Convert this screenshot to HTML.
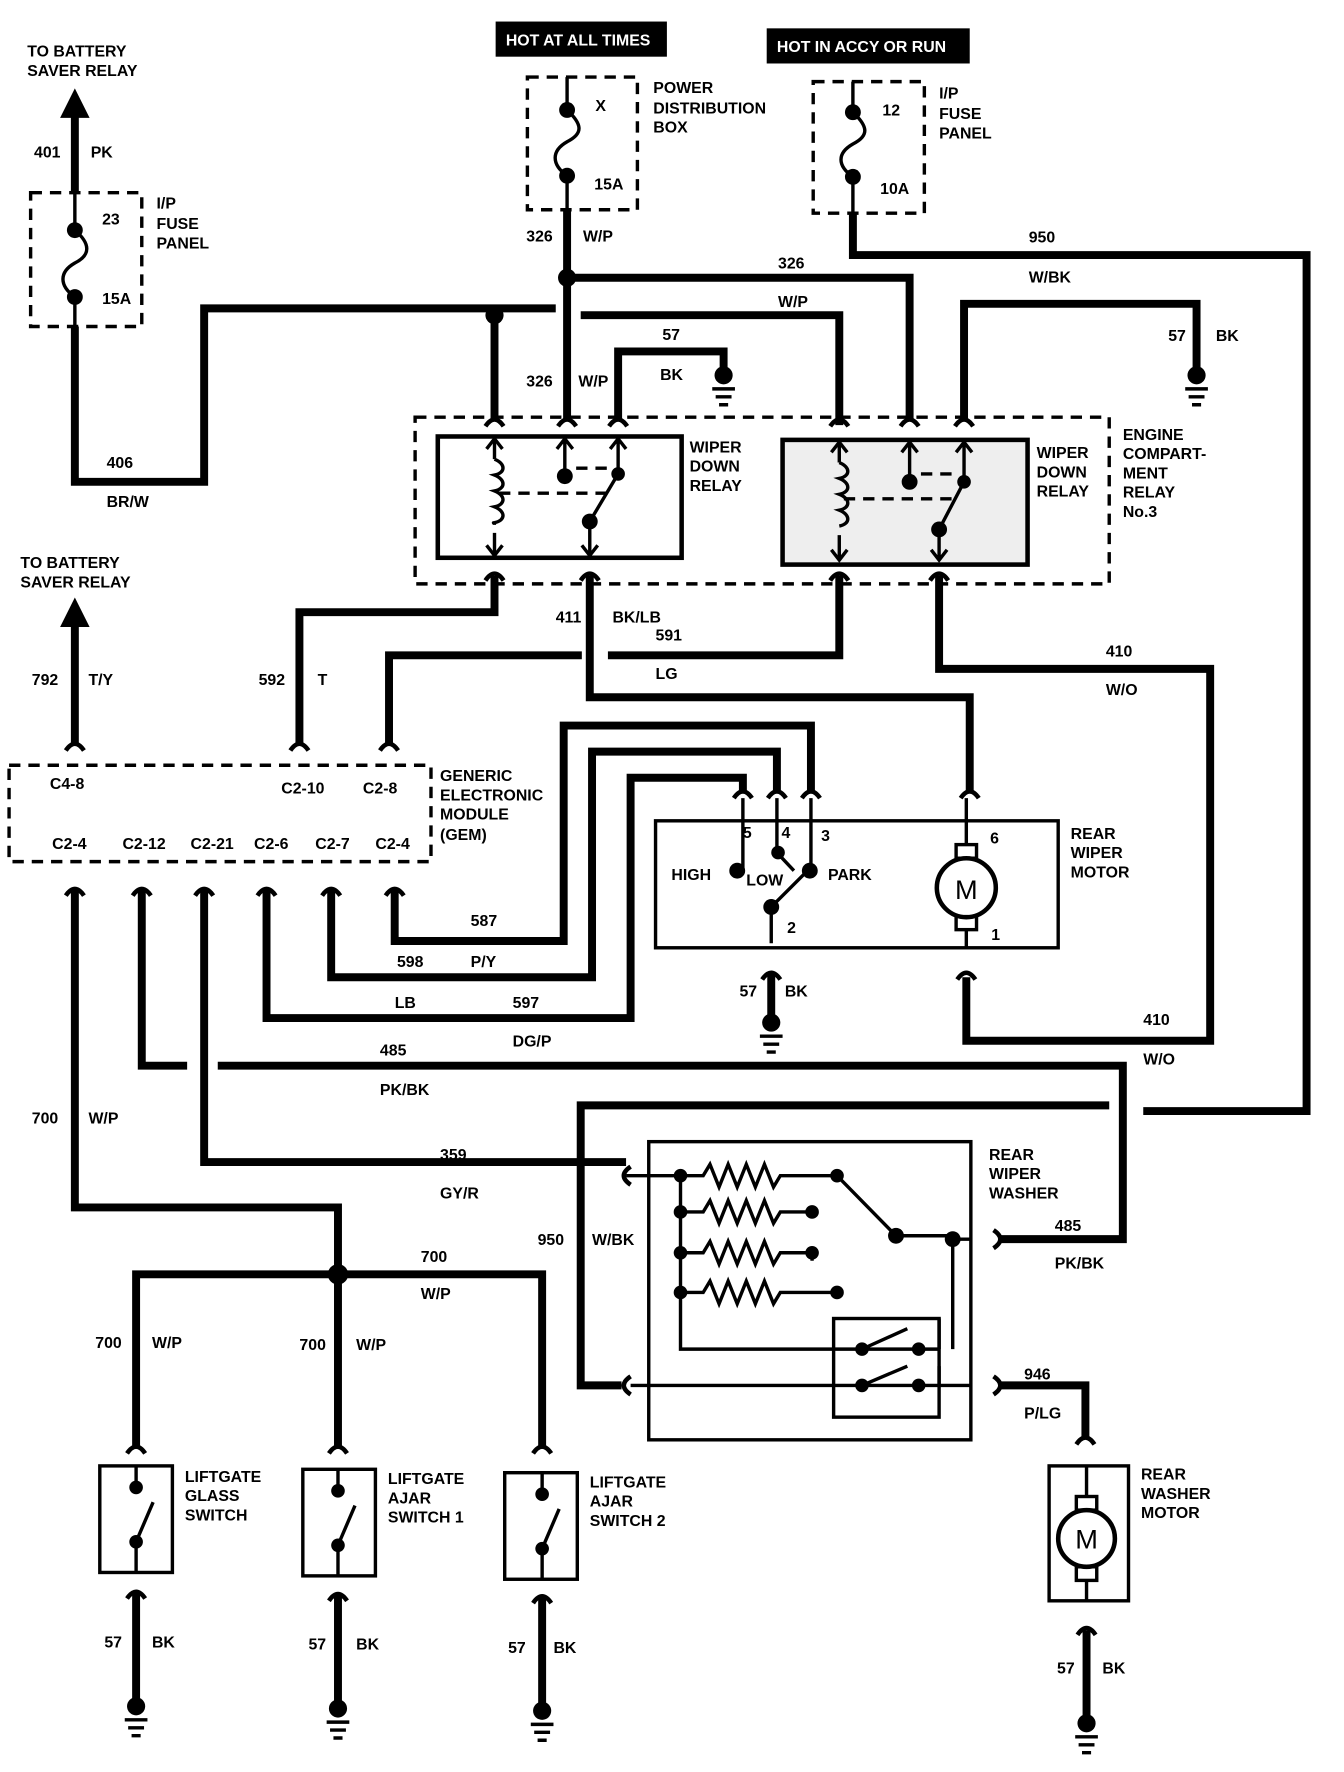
<!DOCTYPE html>
<html><head><meta charset="utf-8"><style>
html,body{margin:0;padding:0;background:#fff;}
svg{display:block;}
text{font-family:"Liberation Sans Narrow","Liberation Sans",sans-serif;font-size:14px;font-weight:bold;fill:#000;}
.w{fill:none;stroke:#000;stroke-width:7;stroke-linejoin:miter;}
.t{fill:none;stroke:#000;stroke-width:3;}
.d{fill:none;stroke:#000;stroke-width:3;stroke-dasharray:10,7;}
.c{fill:none;stroke:#000;stroke-width:4;}
</style></head><body>
<svg width="1344" height="1772" viewBox="0 0 1185 1563" preserveAspectRatio="none" xmlns="http://www.w3.org/2000/svg">
<rect width="1185" height="1563" fill="#fff"/>
<!-- top left battery saver -->
<text x="24" y="50">TO BATTERY</text><text x="24" y="67">SAVER RELAY</text>
<polygon points="66,78 53,104 79,104" fill="#000"/>
<path class="w" d="M66 100V170"/>
<text x="30" y="139">401</text><text x="80" y="139">PK</text>
<rect class="d" x="27" y="170" width="98" height="118"/>
<path class="t" d="M66 170V203 M66 262V288"/>
<path class="t" d="M66 203 C80 215,80 225,66 232 C52 240,52 252,66 262"/>
<circle cx="66" cy="203" r="7"/><circle cx="66" cy="262" r="7"/>
<text x="90" y="198">23</text><text x="90" y="268">15A</text>
<text x="138" y="184">I/P</text><text x="138" y="202">FUSE</text><text x="138" y="219">PANEL</text>
<path class="w" d="M66 288V425H180V272H490"/>
<path class="w" d="M512 278H740V375"/>
<circle cx="436" cy="278" r="8"/>
<path class="w" d="M436 278V370"/>
<text x="94" y="413">406</text><text x="94" y="447">BR/W</text>
<!-- hot boxes -->
<rect x="437" y="19" width="151" height="31" fill="#000"/><text x="446" y="40" style="fill:#fff">HOT AT ALL TIMES</text>
<rect x="676" y="25" width="179" height="31" fill="#000"/><text x="685" y="46" style="fill:#fff">HOT IN ACCY OR RUN</text>
<!-- power distribution -->
<rect class="d" x="465" y="68" width="97" height="117"/>
<path class="t" d="M500 68V97 M500 155V185"/>
<path class="t" d="M500 97 C514 110,514 118,500 125 C486 133,486 145,500 155"/>
<circle cx="500" cy="97" r="7"/><circle cx="500" cy="155" r="7"/>
<text x="525" y="98">X</text><text x="524" y="167">15A</text>
<text x="576" y="82">POWER</text><text x="576" y="100">DISTRIBUTION</text><text x="576" y="117">BOX</text>
<path class="w" d="M500 185V370"/>
<text x="464" y="213">326</text><text x="514" y="213">W/P</text>
<circle cx="500" cy="245" r="8"/>
<path class="w" d="M500 245H802V370"/>
<text x="686" y="237">326</text><text x="686" y="271">W/P</text>
<text x="464" y="341">326</text><text x="510" y="341">W/P</text>
<path class="w" d="M545 370V310H638V325"/>
<text x="584" y="300">57</text><text x="582" y="335">BK</text>
<circle cx="638" cy="331" r="8"/><path class="t" d="M628 343H648M631 350H645M634 357H642"/>
<!-- I/P fuse right -->
<rect class="d" x="717" y="72" width="98" height="116"/>
<path class="t" d="M752 72V99 M752 156V188"/>
<path class="t" d="M752 99 C766 112,766 120,752 127 C738 135,738 146,752 156"/>
<circle cx="752" cy="99" r="7"/><circle cx="752" cy="156" r="7"/>
<text x="778" y="102">12</text><text x="776" y="171">10A</text>
<text x="828" y="87">I/P</text><text x="828" y="105">FUSE</text><text x="828" y="122">PANEL</text>
<path class="w" d="M752 188V225H1152V980H1008"/>
<text x="907" y="214">950</text><text x="907" y="249">W/BK</text>
<path class="w" d="M850 370V268H1055V325"/>
<text x="1030" y="301">57</text><text x="1072" y="301">BK</text>
<circle cx="1055" cy="331" r="8"/><path class="t" d="M1045 343H1065M1048 350H1062M1051 357H1059"/>
<!-- engine compartment relay -->
<rect class="d" x="366" y="368" width="612" height="147"/>
<rect x="386" y="385" width="215" height="107" fill="none" stroke="#000" stroke-width="4"/>
<rect x="690" y="388" width="216" height="110" fill="#eee" stroke="#000" stroke-width="4"/>
<text x="608" y="399">WIPER</text><text x="608" y="416">DOWN</text><text x="608" y="433">RELAY</text>
<text x="914" y="404">WIPER</text><text x="914" y="421">DOWN</text><text x="914" y="438">RELAY</text>
<text x="990" y="388">ENGINE</text><text x="990" y="405">COMPART-</text><text x="990" y="422">MENT</text><text x="990" y="439">RELAY</text><text x="990" y="456">No.3</text>
<g class="t">
<path d="M436 387V405 M436 470V490 M436 405 c10 4,10 12,0 14 c10 4,10 12,0 14 c10 4,10 12,0 14 c10 4,10 12,0 14 c-2 0,0 0,0 2"/>
<path d="M429 396L436 387L443 396 M429 481L436 490L443 481"/>
<path d="M498 387V420 M491 396L498 387L505 396"/>
<path d="M545 387V418 L520 460 V490 M538 396L545 387L552 396 M513 481L520 490L527 481"/>
<path d="M740 390V408 M740 472V494 M740 408 c10 4,10 12,0 14 c10 4,10 12,0 14 c10 4,10 12,0 14 c10 4,10 12,0 14"/>
<path d="M733 399L740 390L747 399 M733 485L740 494L747 485"/>
<path d="M802 390V425 M795 399L802 390L809 399"/>
<path d="M850 390V425 L828 467 V494 M843 399L850 390L857 399 M821 485L828 494L835 485"/>
</g>
<path class="d" d="M440 435H540 M508 413H535 M744 440H845 M812 418H840"/>
<circle cx="498" cy="420" r="7"/><circle cx="545" cy="418" r="6"/><circle cx="520" cy="460" r="7"/>
<circle cx="802" cy="425" r="7"/><circle cx="850" cy="425" r="6"/><circle cx="828" cy="467" r="7"/>
<g class="c"><path d="M428 376Q436 364 444 376M492 376Q500 364 508 376M537 376Q545 364 553 376M732 376Q740 364 748 376M794 376Q802 364 810 376M842 376Q850 364 858 376"/>
<path d="M428 512Q436 500 444 512M512 512Q520 500 528 512M732 512Q740 500 748 512M820 512Q828 500 836 512"/></g>
<!-- relay outputs -->
<path class="w" d="M436 508V540H264V655"/>
<text x="228" y="604">592</text><text x="280" y="604">T</text>
<path class="w" d="M520 508V615H855V700"/>
<text x="490" y="549">411</text><text x="540" y="549">BK/LB</text><text x="578" y="599">LG</text>
<path class="w" d="M740 508V578H536 M513 578H343V655"/>
<text x="578" y="565">591</text>
<path class="w" d="M828 508V590H1067V918H852V862"/>
<text x="975" y="579">410</text><text x="975" y="613">W/O</text>
<text x="1008" y="904">410</text><text x="1008" y="939">W/O</text>
<!-- battery saver 2 -->
<text x="18" y="501">TO BATTERY</text><text x="18" y="518">SAVER RELAY</text>
<polygon points="66,527 53,553 79,553" fill="#000"/>
<path class="w" d="M66 550V655"/>
<text x="28" y="604">792</text><text x="78" y="604">T/Y</text>
<!-- GEM -->
<rect class="d" x="8" y="675" width="372" height="85"/>
<text x="44" y="696">C4-8</text><text x="248" y="700">C2-10</text><text x="320" y="700">C2-8</text>
<text x="46" y="749">C2-4</text><text x="108" y="749">C2-12</text><text x="168" y="749">C2-21</text><text x="224" y="749">C2-6</text><text x="278" y="749">C2-7</text><text x="331" y="749">C2-4</text>
<text x="388" y="689">GENERIC</text><text x="388" y="706">ELECTRONIC</text><text x="388" y="723">MODULE</text><text x="388" y="741">(GEM)</text>
<g class="c"><path d="M58 662Q66 650 74 662M256 662Q264 650 272 662M335 662Q343 650 351 662"/>
<path d="M58 790Q66 778 74 790M117 790Q125 778 133 790M172 790Q180 778 188 790M227 790Q235 778 243 790M284 790Q292 778 300 790M340 790Q348 778 356 790"/>
<path d="M647 704Q655 692 663 704M677 704Q685 692 693 704M707 704Q715 692 723 704M847 704Q855 692 863 704M672 864Q680 852 688 864M844 864Q852 852 860 864"/></g>
<path class="w" d="M348 785V830H497V640H715V700"/>
<text x="415" y="817">587</text>
<path class="w" d="M292 785V862H522V663H685V700"/>
<text x="350" y="853">598</text><text x="415" y="853">P/Y</text>
<path class="w" d="M235 785V898H556V686H655V700"/>
<text x="348" y="889">LB</text><text x="452" y="889">597</text><text x="452" y="923">DG/P</text>
<path class="w" d="M125 785V940H165 M192 940H990V1093H880"/>
<text x="335" y="931">485</text><text x="335" y="966">PK/BK</text>
<text x="930" y="1086">485</text><text x="930" y="1119">PK/BK</text>
<path class="w" d="M180 785V1025H552"/>
<text x="388" y="1023">359</text><text x="388" y="1057">GY/R</text>
<path class="w" d="M66 785V1065H298V1278"/>
<text x="28" y="991">700</text><text x="78" y="991">W/P</text>
<circle cx="298" cy="1124" r="9"/>
<path class="w" d="M120 1278V1124H478V1278"/>
<text x="371" y="1113">700</text><text x="371" y="1146">W/P</text>
<text x="84" y="1189">700</text><text x="134" y="1189">W/P</text><text x="264" y="1191">700</text><text x="314" y="1191">W/P</text>
<!-- rear wiper motor -->
<rect x="578" y="724" width="355" height="112" fill="none" stroke="#000" stroke-width="3"/>
<text x="655" y="739">5</text><text x="689" y="739">4</text><text x="724" y="742">3</text>
<text x="592" y="776">HIGH</text><text x="658" y="781">LOW</text><text x="730" y="776">PARK</text>
<path class="t" d="M655 704V768 M685 704V752 M715 704V768 M680 800V832 M680 800L712 768 M685 752L700 768"/>
<circle cx="650" cy="768" r="7"/><circle cx="686" cy="752" r="6"/><circle cx="714" cy="768" r="7"/><circle cx="680" cy="800" r="7"/>
<text x="694" y="823">2</text>
<path class="t" d="M852 704V745 M852 820V836"/>
<rect x="843" y="745" width="18" height="12" fill="#fff" stroke="#000" stroke-width="3"/>
<rect x="843" y="808" width="18" height="12" fill="#fff" stroke="#000" stroke-width="3"/>
<circle cx="852" cy="783" r="26" fill="#fff" stroke="#000" stroke-width="4"/>
<text x="852" y="793" text-anchor="middle" style="font-size:24px;font-weight:normal">M</text>
<text x="873" y="744">6</text><text x="874" y="829">1</text>
<text x="944" y="740">REAR</text><text x="944" y="757">WIPER</text><text x="944" y="774">MOTOR</text>
<path class="w" d="M680 860V900"/>
<text x="652" y="879">57</text><text x="692" y="879">BK</text>
<circle cx="680" cy="902" r="8"/><path class="t" d="M670 914H690M673 921H687M676 928H684"/>
<!-- rear wiper washer -->
<path class="w" d="M978 975H512V1222H548"/>
<text x="474" y="1098">950</text><text x="522" y="1098">W/BK</text>
<g class="c"><path d="M556 1029Q544 1037 556 1045M556 1214Q544 1222 556 1230M876 1085Q888 1093 876 1101M876 1214Q888 1222 876 1230"/></g>
<rect x="572" y="1007" width="284" height="263" fill="none" stroke="#000" stroke-width="3"/>
<rect x="735" y="1163" width="93" height="87" fill="none" stroke="#000" stroke-width="3"/>
<path class="t" d="M552 1037H600 M600 1037V1190H828 M556 1222H856 M600 1037H620l6-10 8 20 8-20 8 20 8-20 8 20 8-20 8 20 6-10H738 M600 1069H620l6-10 8 20 8-20 8 20 8-20 8 20 8-20 8 20 6-10H716 M600 1105H620l6-10 8 20 8-20 8 20 8-20 8 20 8-20 8 20 6-10H716V1112 M600 1140H620l6-10 8 20 8-20 8 20 8-20 8 20 8-20 8 20 6-10H738 M738 1037L790 1090H840V1190 M840 1093H856 M760 1190L800 1172 M760 1222L800 1205 M828 1190V1163 M828 1222V1205"/>
<circle cx="600" cy="1037" r="6"/><circle cx="600" cy="1069" r="6"/><circle cx="600" cy="1105" r="6"/><circle cx="600" cy="1140" r="6"/>
<circle cx="738" cy="1037" r="6"/><circle cx="716" cy="1069" r="6"/><circle cx="716" cy="1105" r="6"/><circle cx="738" cy="1140" r="6"/>
<circle cx="790" cy="1090" r="7"/><circle cx="840" cy="1093" r="7"/>
<circle cx="760" cy="1190" r="6"/><circle cx="760" cy="1222" r="6"/><circle cx="810" cy="1190" r="6"/><circle cx="810" cy="1222" r="6"/>
<text x="872" y="1023">REAR</text><text x="872" y="1040">WIPER</text><text x="872" y="1057">WASHER</text>
<path class="w" d="M880 1222H957V1268"/>
<text x="903" y="1217">946</text><text x="903" y="1251">P/LG</text>
<g class="c"><path d="M949 1274Q957 1262 965 1274M112 1282Q120 1270 128 1282M290 1282Q298 1270 306 1282M470 1282Q478 1270 486 1282M950 1442Q958 1430 966 1442M112 1410Q120 1398 128 1410M290 1412Q298 1400 306 1412M470 1414Q478 1402 486 1414"/></g>
<rect x="925" y="1293" width="70" height="119" fill="none" stroke="#000" stroke-width="3"/>
<path class="t" d="M958 1293V1320 M958 1394V1412"/>
<rect x="949" y="1320" width="18" height="12" fill="#fff" stroke="#000" stroke-width="3"/>
<rect x="949" y="1382" width="18" height="12" fill="#fff" stroke="#000" stroke-width="3"/>
<circle cx="958" cy="1357" r="25" fill="#fff" stroke="#000" stroke-width="4"/>
<text x="958" y="1366" text-anchor="middle" style="font-size:24px;font-weight:normal">M</text>
<text x="1006" y="1305">REAR</text><text x="1006" y="1322">WASHER</text><text x="1006" y="1339">MOTOR</text>
<path class="w" d="M958 1438V1515"/>
<text x="932" y="1476">57</text><text x="972" y="1476">BK</text>
<circle cx="958" cy="1520" r="8"/><path class="t" d="M948 1532H968M951 1539H965M954 1546H962"/>
<!-- liftgate switches -->
<g>
<rect x="88" y="1293" width="64" height="94" fill="none" stroke="#000" stroke-width="3"/>
<path class="t" d="M120 1293V1310 M120 1360V1387 M120 1360L135 1325"/>
<circle cx="120" cy="1312" r="6"/><circle cx="120" cy="1360" r="6"/>
<text x="163" y="1307">LIFTGATE</text><text x="163" y="1324">GLASS</text><text x="163" y="1341">SWITCH</text>
<path class="w" d="M120 1405V1500"/><text x="92" y="1453">57</text><text x="134" y="1453">BK</text>
<circle cx="120" cy="1505" r="8"/><path class="t" d="M110 1517H130M113 1524H127M116 1531H124"/>
<rect x="267" y="1296" width="64" height="94" fill="none" stroke="#000" stroke-width="3"/>
<path class="t" d="M298 1296V1313 M298 1363V1390 M298 1363L313 1328"/>
<circle cx="298" cy="1315" r="6"/><circle cx="298" cy="1363" r="6"/>
<text x="342" y="1309">LIFTGATE</text><text x="342" y="1326">AJAR</text><text x="342" y="1343">SWITCH 1</text>
<path class="w" d="M298 1407V1502"/><text x="272" y="1455">57</text><text x="314" y="1455">BK</text>
<circle cx="298" cy="1507" r="8"/><path class="t" d="M288 1519H308M291 1526H305M294 1533H302"/>
<rect x="445" y="1299" width="64" height="94" fill="none" stroke="#000" stroke-width="3"/>
<path class="t" d="M478 1299V1316 M478 1366V1393 M478 1366L493 1331"/>
<circle cx="478" cy="1318" r="6"/><circle cx="478" cy="1366" r="6"/>
<text x="520" y="1312">LIFTGATE</text><text x="520" y="1329">AJAR</text><text x="520" y="1346">SWITCH 2</text>
<path class="w" d="M478 1409V1504"/><text x="448" y="1458">57</text><text x="488" y="1458">BK</text>
<circle cx="478" cy="1509" r="8"/><path class="t" d="M468 1521H488M471 1528H485M474 1535H482"/>
</g>
</svg>
</body></html>
